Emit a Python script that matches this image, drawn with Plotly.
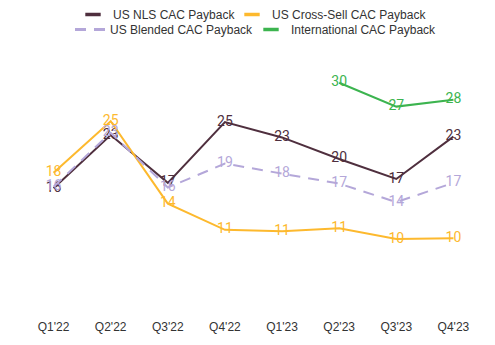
import plotly.graph_objects as go

quarters = ["Q1'22", "Q2'22", "Q3'22", "Q4'22", "Q1'23", "Q2'23", "Q3'23", "Q4'23"]

us_nls = [16.2, 23.1, 16.9, 24.8, 22.8, 20.0, 17.4, 22.9]
us_cross_sell = [18.2, 24.9, 14.2, 10.8, 10.6, 11.0, 9.6, 9.7]
us_blended = [16.4, 23.4, 16.3, 19.4, 18.1, 16.8, 14.4, 16.9]
international = [None, None, None, None, None, 29.9, 26.8, 27.7]

C_NLS = "#4f2f3e"
C_CROSS = "#fdb92e"
C_BLEND = "#b4a7d9"
C_INTL = "#3cb44f"

label_font = "Roboto"
axis_font = "Liberation Sans, Arial, sans-serif"

fig = go.Figure()


def series(name, values, color, dash="solid"):
    fig.add_trace(go.Scatter(
        x=quarters, y=values, name=name, mode="lines+text",
        line=dict(color=color, width=2, dash=dash),
        texttemplate="%{y:.0f}", textposition="middle center",
        textfont=dict(family=label_font, size=14, color=color),
        showlegend=False, hoverinfo="skip",
    ))


def legend_key(name, color, legend, width=None, dash=None):
    # legend-only entry: short thick bar, or a dashed line for the blended series
    if dash:
        kw = dict(mode="lines", line=dict(color=color, width=3, dash=dash))
    else:
        kw = dict(mode="markers",
                  marker=dict(symbol="line-ew-open", size=11, color=color,
                              line=dict(color=color, width=3.5)))
    fig.add_trace(go.Scatter(x=[None], y=[None], name=name, legend=legend,
                             legendwidth=width, showlegend=True, **kw))


series("US NLS CAC Payback", us_nls, C_NLS)
series("US Cross-Sell CAC Payback", us_cross_sell, C_CROSS)
series("US Blended CAC Payback", us_blended, C_BLEND, dash="11px,8px")
series("International CAC Payback", international, C_INTL)

legend_key("US NLS CAC Payback", C_NLS, "legend", width=114)
legend_key("US Cross-Sell CAC Payback", C_CROSS, "legend")
legend_key("US Blended CAC Payback", C_BLEND, "legend2", width=136, dash="11px,8px")
legend_key("International CAC Payback", C_INTL, "legend2")

legend_style = dict(
    orientation="h", xref="container", yref="container",
    xanchor="left", yanchor="top",
    font=dict(family=axis_font, size=12, color="#333333"),
    itemwidth=30, bgcolor="rgba(0,0,0,0)",
)

fig.update_layout(
    width=495, height=345,
    margin=dict(l=25, r=13, t=45, b=32, autoexpand=False),
    paper_bgcolor="white", plot_bgcolor="white",
    showlegend=True,
    legend=dict(legend_style, x=73 / 495, y=1.0),
    legend2=dict(legend_style, x=70 / 495, y=1 - 15 / 345),
    xaxis=dict(
        type="category", range=[-0.5, 7.5], showgrid=False, zeroline=False,
        showline=False, ticks="", ticklabelstandoff=5,
        tickfont=dict(family=axis_font, size=12, color="#333333"),
    ),
    yaxis=dict(
        range=[0, 34.8], showgrid=False, zeroline=False, showline=False,
        showticklabels=False, ticks="",
    ),
)

fig.write_html("out.html")
